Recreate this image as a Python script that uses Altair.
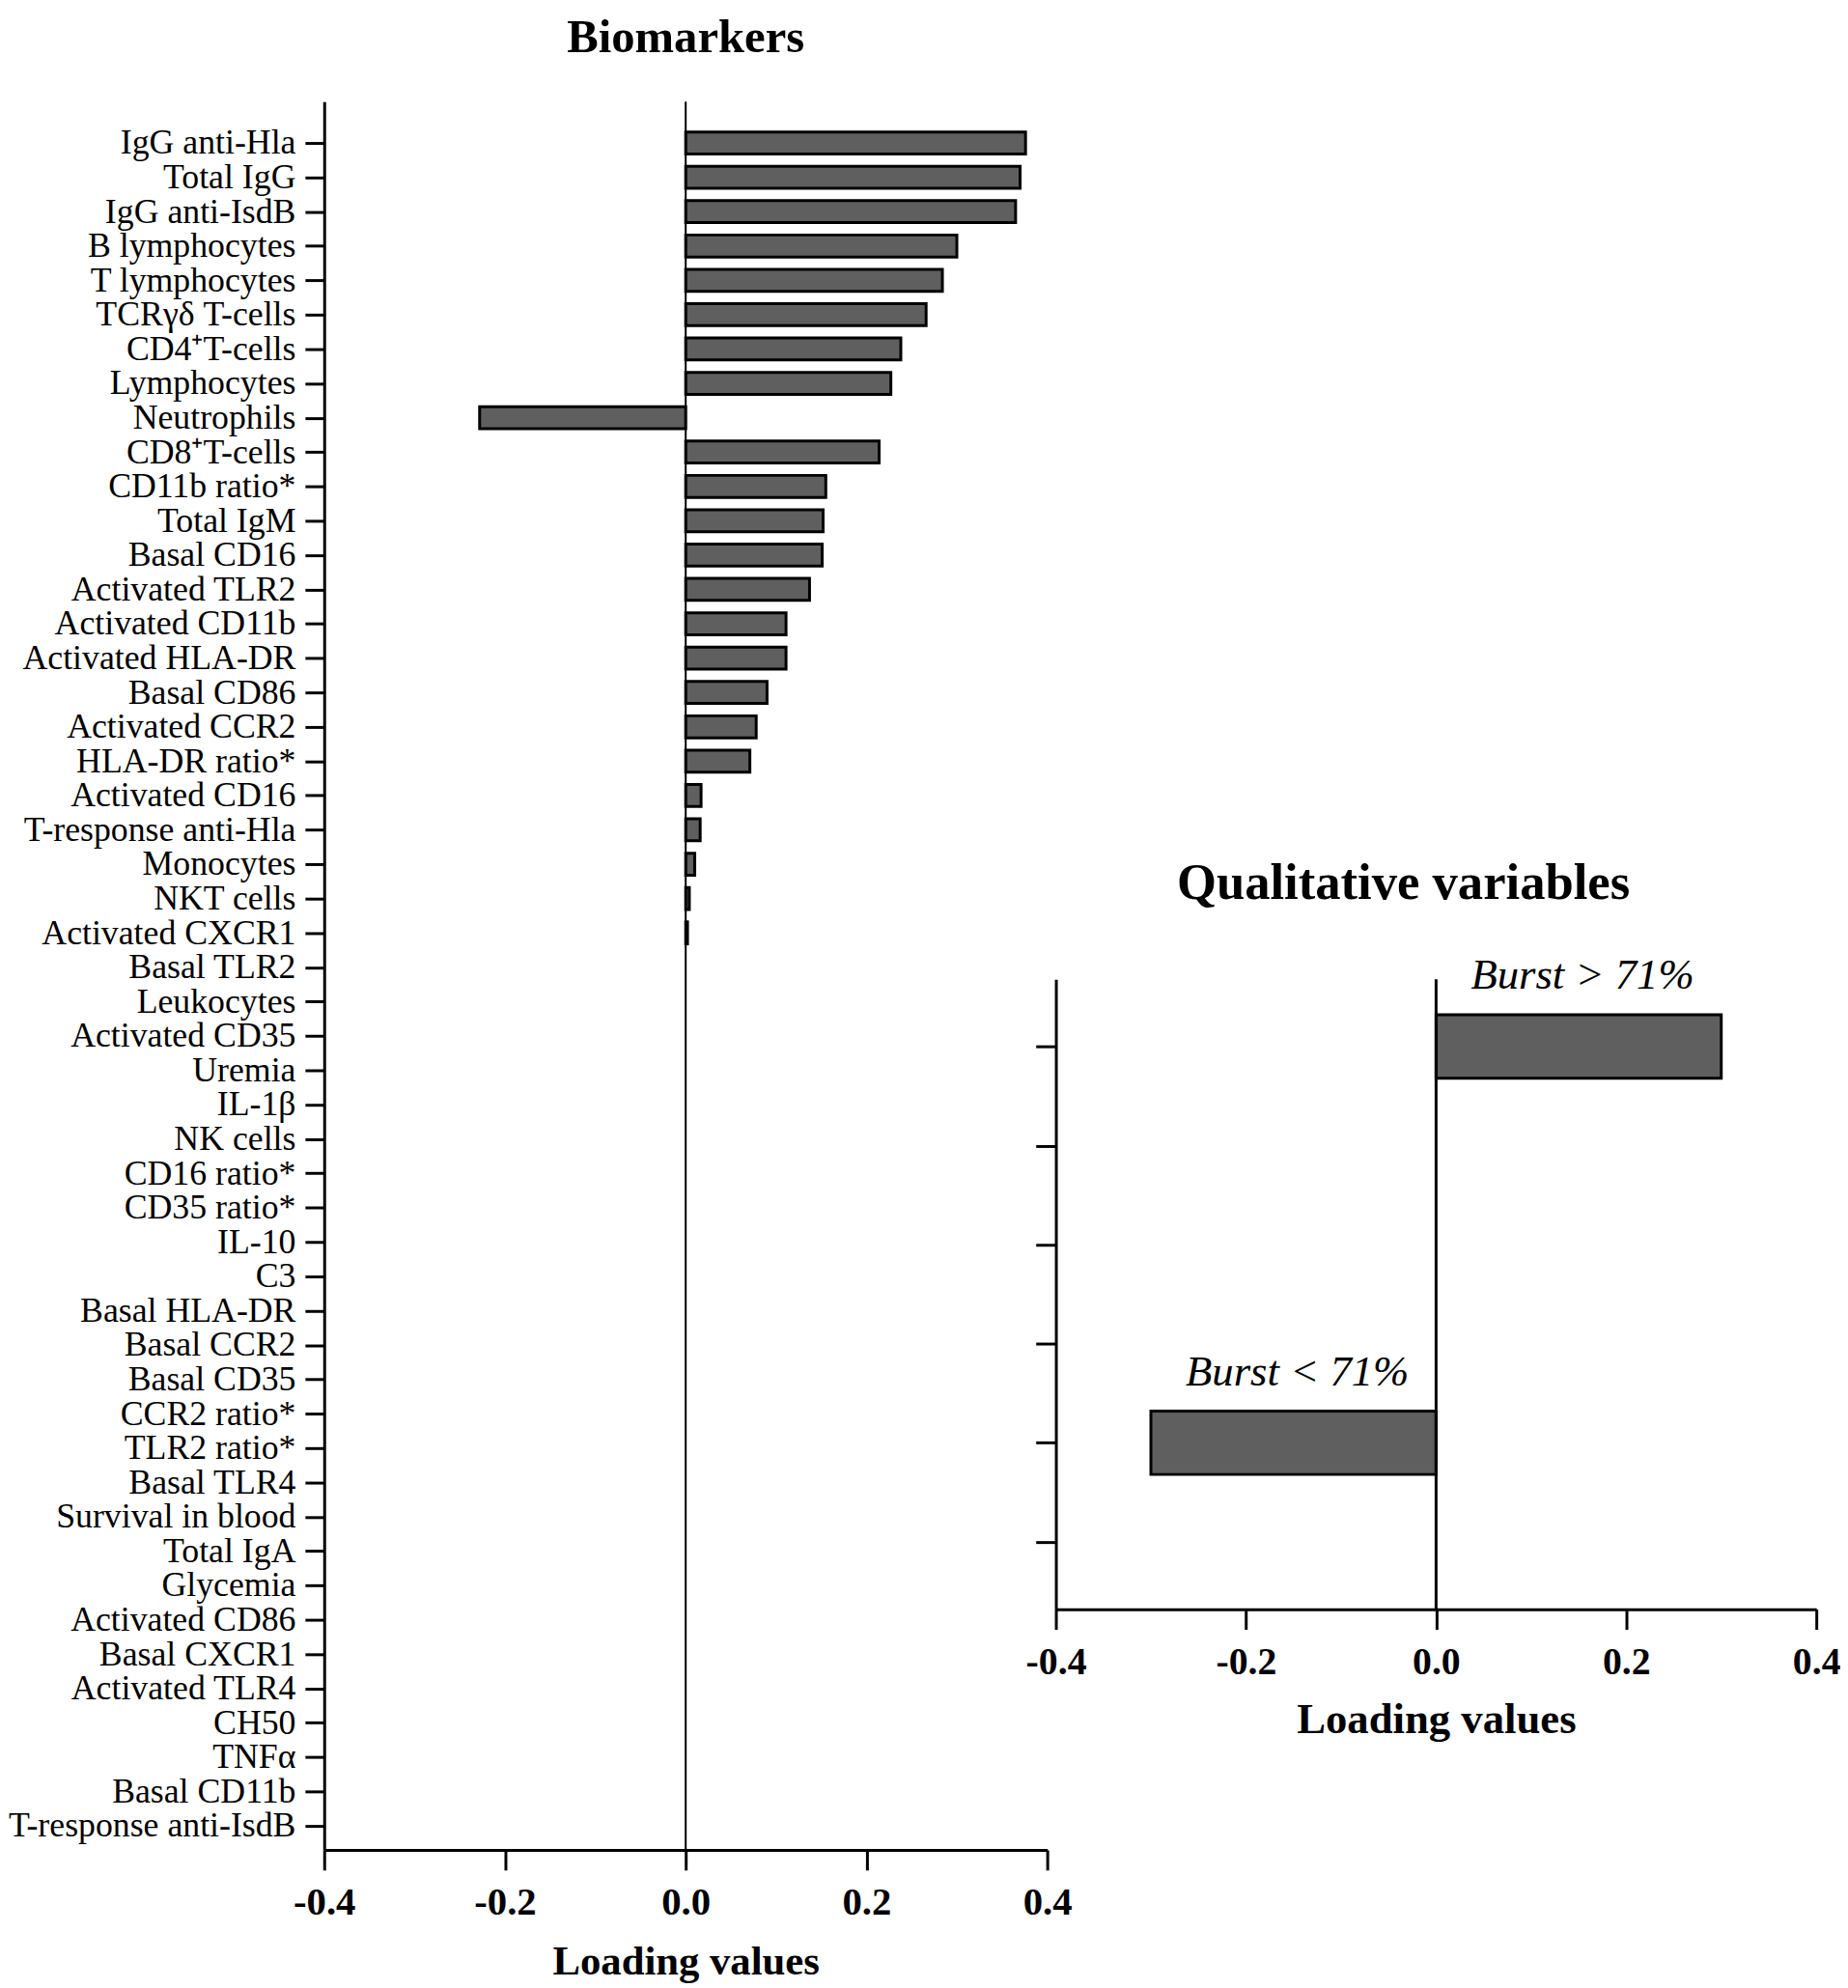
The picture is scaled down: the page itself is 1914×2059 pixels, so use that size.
import json
import altair as alt
import pandas as pd

# ---------------- data ----------------
biomarkers = [
    "IgG anti-Hla", "Total IgG", "IgG anti-IsdB", "B lymphocytes", "T lymphocytes",
    "TCRγδ T-cells", "CD4⁺T-cells", "Lymphocytes", "Neutrophils", "CD8⁺T-cells",
    "CD11b ratio*", "Total IgM", "Basal CD16", "Activated TLR2", "Activated CD11b",
    "Activated HLA-DR", "Basal CD86", "Activated CCR2", "HLA-DR ratio*", "Activated CD16",
    "T-response anti-Hla", "Monocytes", "NKT cells", "Activated CXCR1", "Basal TLR2",
    "Leukocytes", "Activated CD35", "Uremia", "IL-1β", "NK cells",
    "CD16 ratio*", "CD35 ratio*", "IL-10", "C3", "Basal HLA-DR",
    "Basal CCR2", "Basal CD35", "CCR2 ratio*", "TLR2 ratio*", "Basal TLR4",
    "Survival in blood", "Total IgA", "Glycemia", "Activated CD86", "Basal CXCR1",
    "Activated TLR4", "CH50", "TNFα", "Basal CD11b", "T-response anti-IsdB",
]
loadings = [
    0.376, 0.370, 0.365, 0.300, 0.284,
    0.266, 0.238, 0.227, -0.228, 0.214,
    0.155, 0.152, 0.151, 0.137, 0.111,
    0.111, 0.090, 0.078, 0.071, 0.017,
    0.016, 0.010, 0.004, 0.002, 0.0,
    0.0, 0.0, 0.0, 0.0, 0.0,
    0.0, 0.0, 0.0, 0.0, 0.0,
    0.0, 0.0, 0.0, 0.0, 0.0,
    0.0, 0.0, 0.0, 0.0, 0.0,
    0.0, 0.0, 0.0, 0.0, 0.0,
]

qual_labels = ["Burst > 71%", "Burst < 71%"]
qual_values = [0.30, -0.30]
qual_slots = [0, 4]
qual_slot_count = 6

x_ticks = [-0.4, -0.2, 0.0, 0.2, 0.4]

# ---------------- style ----------------
SERIF = "Liberation Serif"
BAR_FILL = "#5f5f5f"
BAR_HALF = 0.32
tick_label_expr = "replace(format(datum.value, '.1f'), '\u2212', '-')"

# ---------------- left chart ----------------
n = len(biomarkers)
bdf = pd.DataFrame({"name": biomarkers, "value": loadings, "idx": list(range(n))})
bdf["zero"] = 0.0
bdf["lo"] = bdf["idx"] - BAR_HALF
bdf["hi"] = bdf["idx"] + BAR_HALF
bdf_bars = bdf[bdf["value"] != 0]

name_expr = json.dumps(biomarkers, ensure_ascii=False) + "[datum.value]"

x_left = alt.X(
    "zero:Q",
    scale=alt.Scale(domain=[-0.4, 0.4], nice=False, zero=False),
    axis=alt.Axis(
        values=x_ticks, labelExpr=tick_label_expr, title="Loading values",
        grid=False, domainColor="black", domainWidth=3, tickColor="black",
        tickWidth=3, tickSize=21, labelFont=SERIF, labelFontWeight="bold",
        labelFontSize=41, labelColor="black", labelPadding=14,
        titleFont=SERIF, titleFontWeight="bold", titleFontSize=43,
        titleColor="black", titlePadding=20, labelFlush=False,
    ),
)
y_left = alt.Y(
    "lo:Q",
    scale=alt.Scale(domain=[-1.2, n - 1 + 0.7], reverse=True, nice=False, zero=False),
    axis=alt.Axis(
        values=list(range(n)), labelExpr=name_expr, title=None, grid=False,
        domainColor="black", domainWidth=3, tickColor="black", tickWidth=3,
        tickSize=20, labelFont=SERIF, labelFontSize=36, labelColor="black",
        labelPadding=10, labelOverlap=False, labelBound=False, labelFlush=False,
        labelLimit=0,
    ),
)

left_bars = alt.Chart(bdf_bars).mark_rect(
    fill=BAR_FILL, stroke="black", strokeWidth=3
).encode(x=x_left, x2="value:Q", y=y_left, y2="hi:Q")

left_zero = alt.Chart(pd.DataFrame({"v": [0.0]})).mark_rule(
    color="black", strokeWidth=2
).encode(x=alt.X("v:Q"))

left = alt.layer(left_bars, left_zero).properties(
    width=754, height=1823,
    title=alt.TitleParams(
        "Biomarkers", font=SERIF, fontSize=49, fontWeight="bold", color="black",
        anchor="middle", frame="group", baseline="bottom", offset=-8,
    ),
)

# ---------------- right chart ----------------
qdf = pd.DataFrame({"label": qual_labels, "value": qual_values, "slot": qual_slots})
qdf["zero"] = 0.0
qdf["lo"] = qdf["slot"] - BAR_HALF
qdf["hi"] = qdf["slot"] + BAR_HALF
qdf["mid"] = qdf["value"] / 2
qdf["ty"] = qdf["slot"] - 0.58

x_right = alt.X(
    "zero:Q",
    scale=alt.Scale(domain=[-0.4, 0.4], nice=False, zero=False),
    axis=alt.Axis(
        values=x_ticks, labelExpr=tick_label_expr, title="Loading values",
        grid=False, domainColor="black", domainWidth=3, tickColor="black",
        tickWidth=3, tickSize=21, labelFont=SERIF, labelFontWeight="bold",
        labelFontSize=40, labelColor="black", labelPadding=14,
        titleFont=SERIF, titleFontWeight="bold", titleFontSize=45,
        titleColor="black", titlePadding=18, labelFlush=False,
    ),
)
y_right_scale = alt.Scale(
    domain=[-0.68, qual_slot_count - 1 + 0.68], reverse=True, nice=False, zero=False
)
y_right = alt.Y(
    "lo:Q",
    scale=y_right_scale,
    axis=alt.Axis(
        values=list(range(qual_slot_count)), labels=False, title=None, grid=False,
        domainColor="black", domainWidth=3, tickColor="black", tickWidth=3,
        tickSize=21,
    ),
)

right_bars = alt.Chart(qdf).mark_rect(
    fill=BAR_FILL, stroke="black", strokeWidth=3
).encode(x=x_right, x2="value:Q", y=y_right, y2="hi:Q")

right_zero = alt.Chart(pd.DataFrame({"v": [0.0]})).mark_rule(
    color="black", strokeWidth=3
).encode(x=alt.X("v:Q"))

right_text = alt.Chart(qdf).mark_text(
    font=SERIF, fontSize=45, fontStyle="italic", color="black",
    align="center", baseline="alphabetic", dx=4,
).encode(
    x=alt.X("mid:Q"),
    y=alt.Y("ty:Q", scale=y_right_scale),
    text="label:N",
)

right = alt.layer(right_bars, right_zero, right_text).properties(
    width=793, height=657,
    title=alt.TitleParams(
        "Qualitative variables", font=SERIF, fontSize=53, fontWeight="bold",
        color="black", anchor="middle", frame="group", baseline="bottom",
        offset=-6, dx=-34,
    ),
)

spacer = alt.Chart(pd.DataFrame({"s": [0]})).mark_point(opacity=0).encode(
    x=alt.X("s:Q", axis=None), y=alt.Y("s:Q", axis=None)
).properties(width=793, height=900)

right_col = alt.vconcat(spacer, right, spacing=15, bounds="flush")

chart = alt.hconcat(left, right_col, spacing=9, bounds="flush").properties(
    padding={"left": 0, "top": 0, "right": 0, "bottom": 0},
    background="white",
).configure_view(stroke=None)

chart.save("out.html", embed_options={"renderer": "svg", "actions": False})
